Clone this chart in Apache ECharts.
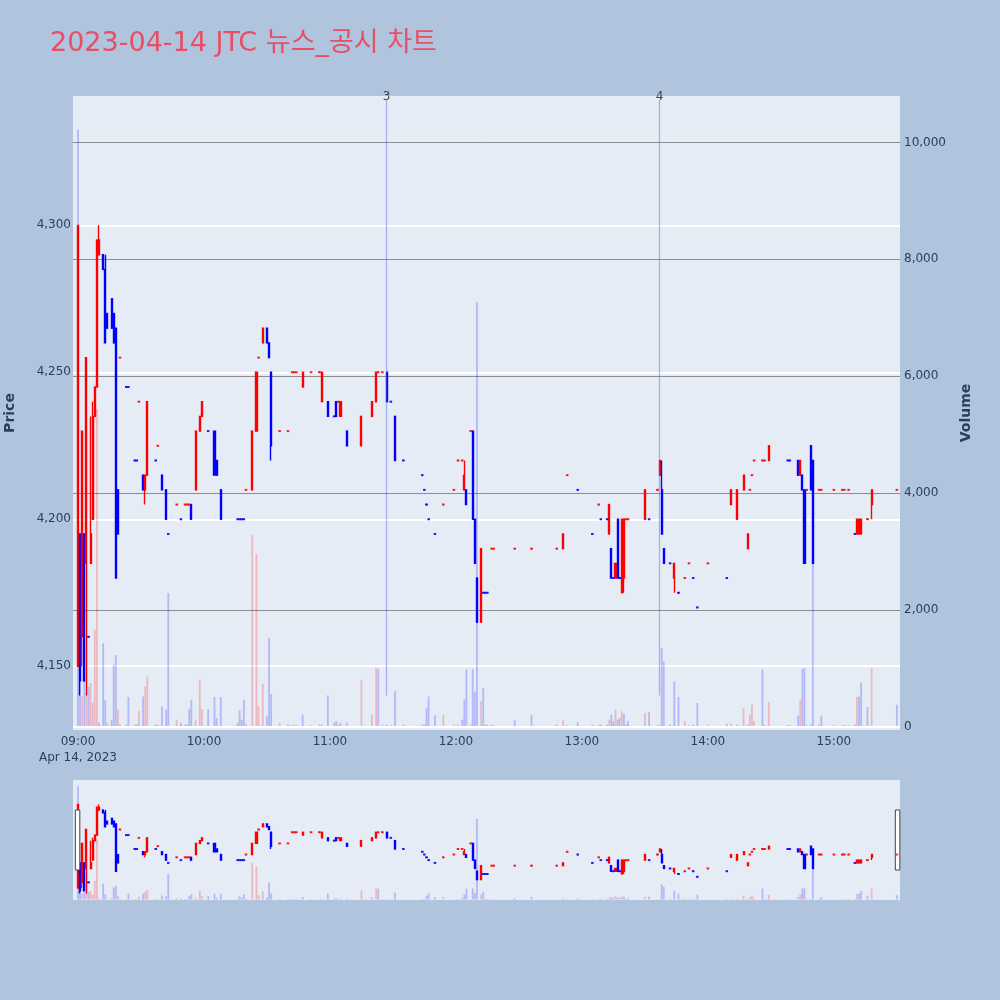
<!DOCTYPE html>
<html><head><meta charset="utf-8">
<script src="https://cdn.jsdelivr.net/npm/echarts@6/dist/echarts.min.js"></script>
<style>html,body{margin:0;padding:0;background:#b0c4de}#c{width:1000px;height:1000px}</style>
</head><body><div id="c"></div>
<script>
const titleText = '2023-04-14 JTC 뉴스_공시 차트';
const dateLabel = 'Apr 14, 2023';
const times = [
'09:00','09:01','09:02','09:03','09:04','09:05','09:06','09:07','09:08','09:09',
'09:10','09:12','09:13','09:14','09:16','09:17','09:18','09:19','09:20','09:23',
'09:24','09:27','09:28','09:29','09:31','09:32','09:33','09:37','09:38','09:40',
'09:42','09:43','09:47','09:49','09:51','09:52','09:53','09:54','09:56','09:58',
'09:59','10:02','10:05','10:06','10:08','10:16','10:17','10:18','10:19','10:20',
'10:23','10:25','10:26','10:28','10:30','10:31','10:32','10:36','10:40','10:42',
'10:43','10:44','10:47','10:51','10:55','10:56','10:59','11:02','11:03','11:04',
'11:05','11:08','11:15','11:20','11:22','11:23','11:25','11:27','11:29','11:31',
'11:35','11:44','11:45','11:46','11:47','11:50','11:54','11:59','12:01','12:03',
'12:04','12:05','12:07','12:08','12:09','12:10','12:12','12:13','12:14','12:15',
'12:17','12:18','12:28','12:36','12:48','12:51','12:53','12:58','13:05','13:08',
'13:09','13:12','13:13','13:14','13:15','13:16','13:17','13:18','13:19','13:20',
'13:21','13:22','13:30','13:32','13:36','13:37','13:38','13:39','13:42','13:44',
'13:46','13:49','13:51','13:53','13:55','14:00','14:09','14:11','14:14','14:17',
'14:19','14:20','14:21','14:22','14:26','14:27','14:29','14:38','14:39','14:43',
'14:44','14:45','14:46','14:47','14:49','14:50','14:53','14:54','15:00','15:04',
'15:05','15:07','15:10','15:11','15:12','15:13','15:16','15:18','15:30'];
const opens = [
4150,4195,4160,4195,4185,4160,4185,4200,4235,4245,
4290,4290,4285,4270,4275,4270,4265,4210,4255,4245,
4245,4220,4220,4240,4215,4210,4215,4220,4225,4215,
4210,4195,4205,4200,4205,4205,4205,4205,4210,4230,
4235,4230,4230,4220,4210,4200,4200,4200,4200,4210,
4210,4230,4255,4260,4265,4260,4250,4230,4230,4250,
4250,4250,4245,4250,4250,4240,4240,4235,4240,4240,
4235,4230,4225,4235,4240,4250,4250,4250,4240,4235,
4220,4215,4210,4205,4200,4195,4205,4210,4220,4220,
4210,4210,4230,4230,4200,4180,4165,4175,4175,4175,
4190,4190,4190,4190,4190,4190,4215,4210,4195,4205,
4200,4200,4195,4190,4180,4180,4200,4180,4175,4180,
4200,4200,4200,4200,4210,4215,4210,4190,4185,4180,
4175,4180,4185,4180,4170,4185,4180,4205,4200,4210,
4190,4210,4215,4220,4220,4220,4220,4220,4220,4220,
4215,4215,4210,4210,4225,4220,4210,4210,4210,4210,
4210,4210,4195,4195,4195,4195,4200,4205,4210];
const closes = [
4300,4145,4230,4145,4255,4160,4195,4235,4245,4295,
4295,4285,4260,4265,4265,4260,4180,4195,4255,4245,
4245,4220,4220,4240,4210,4215,4240,4220,4225,4210,
4200,4195,4205,4200,4205,4205,4205,4200,4230,4235,
4240,4230,4215,4215,4200,4200,4200,4200,4200,4210,
4230,4250,4255,4265,4260,4255,4225,4230,4230,4250,
4250,4250,4250,4250,4250,4250,4235,4235,4235,4240,
4240,4225,4235,4240,4250,4250,4250,4240,4240,4220,
4220,4215,4210,4205,4200,4195,4205,4210,4220,4220,
4215,4205,4230,4200,4185,4165,4190,4175,4175,4175,
4190,4190,4190,4190,4190,4195,4215,4210,4195,4205,
4200,4200,4205,4180,4180,4185,4180,4180,4200,4200,
4200,4200,4210,4200,4210,4220,4195,4185,4185,4185,
4175,4180,4185,4180,4170,4185,4180,4210,4210,4215,
4195,4210,4215,4220,4220,4220,4225,4220,4220,4215,
4220,4210,4185,4210,4210,4185,4210,4210,4210,4210,
4210,4210,4195,4200,4200,4200,4200,4210,4210];
const lows = [
4150,4140,4150,4145,4140,4160,4185,4200,4235,4245,
4290,4285,4260,4265,4265,4260,4180,4195,4255,4245,
4245,4220,4220,4240,4210,4205,4215,4220,4225,4210,
4200,4195,4205,4200,4205,4205,4205,4200,4210,4230,
4235,4230,4215,4215,4200,4200,4200,4200,4200,4210,
4210,4230,4255,4260,4260,4255,4220,4230,4230,4250,
4250,4250,4245,4250,4250,4240,4235,4235,4235,4240,
4235,4225,4225,4235,4240,4250,4250,4240,4240,4220,
4220,4215,4210,4205,4200,4195,4205,4210,4220,4220,
4210,4205,4230,4200,4185,4165,4165,4175,4175,4175,
4190,4190,4190,4190,4190,4190,4215,4210,4195,4205,
4200,4200,4195,4180,4180,4180,4180,4180,4175,4175,
4200,4200,4200,4200,4210,4215,4195,4185,4185,4175,
4175,4180,4185,4180,4170,4185,4180,4205,4200,4210,
4190,4210,4215,4220,4220,4220,4220,4220,4220,4215,
4215,4210,4185,4210,4210,4185,4210,4210,4210,4210,
4210,4210,4195,4195,4195,4195,4200,4200,4210];
const highs = [
4300,4195,4230,4195,4255,4160,4235,4240,4245,4295,
4300,4290,4290,4270,4275,4270,4265,4210,4255,4245,
4245,4220,4220,4240,4215,4215,4240,4220,4225,4215,
4210,4195,4205,4200,4205,4205,4205,4205,4230,4235,
4240,4230,4230,4220,4210,4200,4200,4200,4200,4210,
4230,4250,4255,4265,4265,4260,4250,4230,4230,4250,
4250,4250,4250,4250,4250,4250,4240,4235,4240,4240,
4240,4230,4235,4240,4250,4250,4250,4250,4240,4235,
4220,4215,4210,4205,4200,4195,4205,4210,4220,4220,
4220,4210,4230,4230,4200,4180,4190,4175,4175,4175,
4190,4190,4190,4190,4190,4195,4215,4210,4195,4205,
4200,4200,4205,4190,4180,4185,4200,4180,4200,4200,
4200,4200,4210,4200,4210,4220,4220,4190,4185,4185,
4175,4180,4185,4180,4170,4185,4180,4210,4210,4215,
4195,4210,4215,4220,4220,4220,4225,4220,4220,4220,
4220,4215,4210,4210,4225,4220,4210,4210,4210,4210,
4210,4210,4195,4200,4200,4200,4200,4210,4210];
const volumes = [
10220,1400,520,1350,580,690,750,410,1660,5440,
70,1430,465,70,125,1065,1230,300,50,40,
510,40,40,270,520,690,860,40,40,350,
295,2290,125,70,40,40,310,465,125,807,
307,307,510,150,510,70,285,125,465,60,
3280,2955,350,740,180,1520,560,70,40,30,
30,30,210,30,40,40,540,70,100,40,
70,70,807,210,1005,990,40,40,30,610,
40,40,40,320,520,200,200,40,40,125,
470,980,40,990,600,7270,440,665,40,40,
40,30,115,200,40,115,30,80,40,30,
40,40,125,210,100,295,125,155,265,225,
40,100,240,250,30,40,1350,1120,40,780,
510,100,30,40,410,40,55,55,40,320,
40,210,380,100,980,30,425,30,30,195,
465,990,1005,30,40,4000,40,195,30,30,
30,30,40,510,520,760,340,1005,380];
const newsTimes = ['11:27', '13:37'];
const newsLabels = ['3', '4'];
const hourLabels = ['09:00','10:00','11:00','12:00','13:00','14:00','15:00'];
const priceTicks = [4150, 4200, 4250, 4300];
const volumeTicks = [0, 2000, 4000, 6000, 8000, 10000];

const FONT = "'DejaVu Sans', 'Noto Sans CJK KR', sans-serif";
const UP = '#ff0000', DOWN = '#0000ff';
const UPV = 'rgba(255,0,0,0.22)', DOWNV = 'rgba(0,0,255,0.22)';
const X_MIN = -2.38, X_MAX = 391.5;
const P_MIN = 4128.3, P_MAX = 4344;
const V_MIN = -53, V_MAX = 10795;
const AX = '#2a3f5f';

function toMin(t) { const p = t.split(':').map(Number); return (p[0] - 9) * 60 + p[1]; }
const xs = times.map(toMin);
const dirs = [];
let prevC = null, prevDir = 1;
for (let i = 0; i < times.length; i++) {
  const o = opens[i], c = closes[i];
  let d;
  if (c > o) d = 1; else if (c < o) d = -1;
  else d = (prevC === null || c === prevC) ? prevDir : (c > prevC ? 1 : -1);
  dirs.push(d); prevDir = d; prevC = c;
}
const colOf = i => dirs[i] > 0 ? UP : DOWN;
const candleData = xs.map((x, i) => {
  const col = colOf(i);
  return { value: [x, opens[i], closes[i], lows[i], highs[i]],
    itemStyle: { color: col, color0: col, borderColor: col, borderColor0: col, borderColorDoji: col } };
});
// single-price minutes (open = close = high = low) drawn as small ticks
const dojiData = [];
xs.forEach((x, i) => {
  if (highs[i] === lows[i]) dojiData.push({ value: [x, closes[i]], itemStyle: { color: colOf(i) } });
});
const volData = xs.map((x, i) => {
  const up = i > 0 && closes[i] > closes[i - 1];
  return { value: [x, volumes[i]], itemStyle: { color: up ? UPV : DOWNV } };
});
const fmtNum = v => Number(v).toLocaleString('en-US');
const hourVals = hourLabels.map(toMin);

const newsLines = newsTimes.map((t, i) => [
  { coord: [toMin(t), 4140], name: newsLabels[i] },
  { coord: [toMin(t), 4342.8], name: newsLabels[i] }
]);

function candleSeries(xi, yi, withNews) {
  const s = {
    type: 'candlestick', xAxisIndex: xi, yAxisIndex: yi, data: candleData,
    barWidth: 1.6, z: 3,
    itemStyle: { borderWidth: 1.4 }
  };
  if (withNews) {
    s.markLine = {
      silent: true, symbol: ['none', 'none'], animation: false,
      lineStyle: { color: 'rgba(80,100,235,0.45)', width: 1.2, type: 'solid' },
      label: { show: true, position: 'end', formatter: '{b}', color: '#444', fontSize: 12, distance: -3, fontFamily: FONT },
      data: newsLines
    };
  }
  return s;
}
function dojiSeries(xi, yi) {
  return { type: 'scatter', xAxisIndex: xi, yAxisIndex: yi, data: dojiData, symbol: 'rect',
    symbolSize: [2.6, 2], z: 4, silent: true };
}
function volSeries(xi, yi, withZero) {
  const s = { type: 'bar', xAxisIndex: xi, yAxisIndex: yi, data: volData, barWidth: 1.8, z: 2 };
  if (withZero) {
    s.markLine = { silent: true, symbol: ['none', 'none'], animation: false, label: { show: false },
      lineStyle: { color: '#ffffff', width: 2, type: 'solid' }, data: [{ yAxis: 0 }] };
  }
  return s;
}

const chart = echarts.init(document.getElementById('c'), null, { renderer: 'canvas' });
chart.setOption({
  animation: false,
  backgroundColor: '#b0c4de',
  textStyle: { fontFamily: FONT },
  title: { text: titleText, left: 45, top: 25,
    textStyle: { color: '#e84f64', fontSize: 27, fontWeight: 'normal', fontFamily: FONT } },
  grid: [
    { left: 73, right: 100, top: 96, bottom: 270, show: true, backgroundColor: '#e5ecf6', borderWidth: 0,
      containLabel: false, outerBoundsMode: 'none' },
    { left: 73, right: 100, top: 780, height: 120, show: true, backgroundColor: '#e5ecf6', borderWidth: 0,
      containLabel: false, outerBoundsMode: 'none' }
  ],
  xAxis: [
    { type: 'value', gridIndex: 0, min: X_MIN, max: X_MAX,
      axisLine: { show: false }, axisTick: { show: false, customValues: hourVals }, splitLine: { show: false },
      axisLabel: { customValues: hourVals, color: AX, fontSize: 12, margin: 4, lineHeight: 16,
        formatter: v => { const h = Math.floor(v / 60) + 9, m = v % 60;
          const s = String(h).padStart(2, '0') + ':' + String(m).padStart(2, '0');
          return v === 0 ? s + '\n' + dateLabel : s; } } },
    { type: 'value', gridIndex: 1, min: X_MIN, max: X_MAX, show: false, splitLine: { show: false } }
  ],
  yAxis: [
    { type: 'value', gridIndex: 0, min: P_MIN, max: P_MAX, position: 'left',
      name: 'Price', nameLocation: 'middle', nameGap: 56, nameRotate: 90,
      nameTextStyle: { color: AX, fontSize: 14, fontWeight: 'bold', fontFamily: FONT },
      axisLine: { show: false }, axisTick: { show: false, customValues: priceTicks },
      axisLabel: { customValues: priceTicks, formatter: fmtNum, color: AX, fontSize: 12, margin: 2 },
      splitLine: { show: true, lineStyle: { color: '#ffffff', width: 2 } } },
    { type: 'value', gridIndex: 0, min: V_MIN, max: V_MAX, position: 'right',
      name: 'Volume', nameLocation: 'middle', nameGap: 59, nameRotate: 90,
      nameTextStyle: { color: AX, fontSize: 14, fontWeight: 'bold', fontFamily: FONT },
      axisLine: { show: false }, axisTick: { show: false, customValues: volumeTicks.slice(1) },
      axisLabel: { customValues: volumeTicks, formatter: fmtNum, color: AX, fontSize: 12, margin: 4 },
      splitLine: { show: true, lineStyle: { color: '#8c8c8c', width: 1 } } },
    { type: 'value', gridIndex: 1, min: P_MIN, max: P_MAX, show: false, splitLine: { show: false } },
    { type: 'value', gridIndex: 1, min: V_MIN, max: V_MAX, show: false, splitLine: { show: false } }
  ],
  dataZoom: [{
    type: 'slider', xAxisIndex: 0, filterMode: 'none', start: 0, end: 100,
    left: 76, right: 102, top: 780, height: 120,
    backgroundColor: 'rgba(0,0,0,0)', borderColor: 'rgba(0,0,0,0)', fillerColor: 'rgba(0,0,0,0)',
    showDetail: false, showDataShadow: false, brushSelect: false, moveHandleSize: 0,
    dataBackground: { lineStyle: { opacity: 0 }, areaStyle: { opacity: 0 } },
    selectedDataBackground: { lineStyle: { opacity: 0 }, areaStyle: { opacity: 0 } },
    handleIcon: 'path://M0,0H3V40H0Z', handleSize: '50%',
    handleStyle: { color: '#ffffff', borderColor: '#444444', borderWidth: 1 },
    emphasis: { handleStyle: { color: '#ffffff', borderColor: '#444444' } }
  }],
  series: [
    volSeries(0, 1, true),
    candleSeries(0, 0, true),
    dojiSeries(0, 0),
    volSeries(1, 3, false),
    candleSeries(1, 2, false),
    dojiSeries(1, 2)
  ]
});
</script>
</body></html>
